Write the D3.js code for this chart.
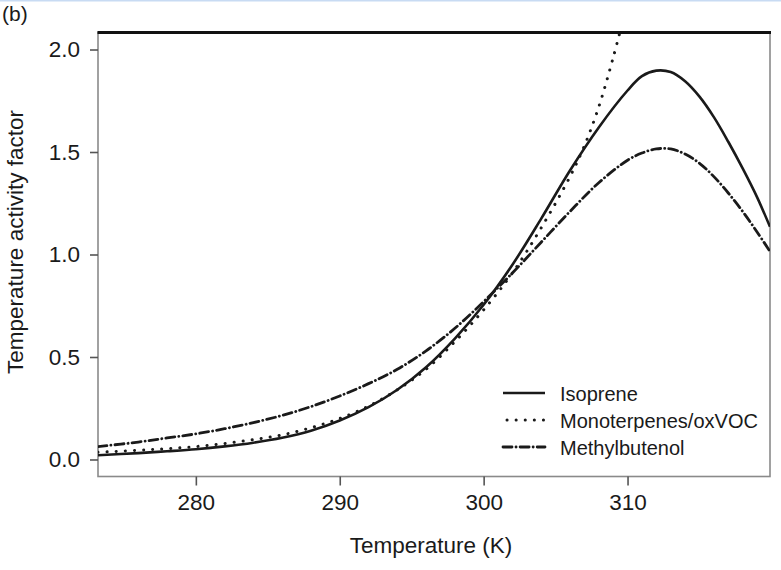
<!DOCTYPE html>
<html>
<head>
<meta charset="utf-8">
<script src="https://cdn.jsdelivr.net/npm/d3@7"></script>
<style>
  body { margin: 0; background: #fff; }
  text { font-family: "Liberation Sans", Arial, sans-serif; fill: #1a1a1a; }
</style>
</head>
<body>
<div id="chart"></div>
<script>
// values (temperature in K, activity factor)
var isopreneT = [273.2, 276, 278, 280, 282, 284, 286, 288, 290, 292, 294, 296, 298, 300, 302, 304, 306, 308, 310, 311, 312, 313, 314, 315, 316, 317, 318, 319, 319.9];
var isopreneV = [0.021, 0.031, 0.040, 0.050, 0.064, 0.082, 0.106, 0.14, 0.19, 0.255, 0.34, 0.45, 0.59, 0.755, 0.95, 1.175, 1.41, 1.62, 1.80, 1.87, 1.897, 1.89, 1.845, 1.77, 1.67, 1.55, 1.42, 1.28, 1.135];

var monoT = [273.2, 276, 278, 280, 282, 284, 286, 288, 290, 292, 294, 296, 298, 300, 302, 304, 306, 307, 308, 309, 309.6];
var monoV = [0.035, 0.045, 0.053, 0.063, 0.078, 0.097, 0.12, 0.155, 0.20, 0.26, 0.34, 0.44, 0.575, 0.73, 0.91, 1.13, 1.38, 1.53, 1.72, 1.96, 2.12];

var mbT = [273.2, 276, 278, 280, 282, 284, 286, 288, 290, 292, 294, 296, 298, 300, 302, 304, 306, 308, 310, 311, 312, 313, 314, 315, 316, 317, 318, 319, 319.9];
var mbV = [0.063, 0.085, 0.105, 0.125, 0.15, 0.18, 0.215, 0.258, 0.31, 0.37, 0.44, 0.53, 0.64, 0.77, 0.91, 1.06, 1.21, 1.35, 1.46, 1.495, 1.515, 1.515, 1.49, 1.445, 1.38, 1.30, 1.21, 1.11, 1.015];

var seriesNames = ["Isoprene", "Monoterpenes/oxVOC", "Methylbutenol"];
var xTicks = [280, 290, 300, 310];
var yTicks = [0.0, 0.5, 1.0, 1.5, 2.0];
var xDomain = [273.2, 319.9];
var yDomain = [-0.083, 2.083];

function drawChart() {
  "use strict";
  var width = 781;
  var height = 570;
  var left = 98, right = 770, top = 32.5, bottom = 476.5;
  var ink = "#1a1a1a";

  var svg = d3.select("#chart").append("svg").
    attr("width", width).
    attr("height", height);

  // thin blue strip at the very top of the scan
  svg.append("rect").
    attr("x", 0).attr("y", 0).
    attr("width", width).attr("height", 1.5).
    style("fill", "#c8dbf3");

  var x = d3.scaleLinear().domain(xDomain).range([left, right]);
  var y = d3.scaleLinear().domain(yDomain).range([bottom, top]);

  svg.append("defs").append("clipPath").
    attr("id", "plotclip").
    append("rect").
    attr("x", left).attr("y", top + 1.5).
    attr("width", right - left).attr("height", bottom - top - 1.5);

  // frame: grey box, heavy top rule
  svg.append("rect").
    attr("x", left).attr("y", top).
    attr("width", right - left).attr("height", bottom - top).
    style("fill", "none").
    style("stroke", "#8a8a8a").
    style("stroke-width", 1.6);

  svg.append("line").
    attr("x1", left - 0.5).attr("x2", right + 1).
    attr("y1", top).attr("y2", top).
    style("stroke", "#111").
    style("stroke-width", 3);

  var xAxis = svg.append("g").
    attr("transform", "translate(0," + bottom + ")").
    call(d3.axisBottom(x).tickValues(xTicks).tickSize(9).tickPadding(9).tickFormat(d3.format("d")));
  xAxis.select(".domain").remove();
  xAxis.selectAll("line").style("stroke", "#555").style("stroke-width", 1.6);
  xAxis.selectAll("text").style("font-size", "22.5px").style("fill", ink);

  var yAxis = svg.append("g").
    attr("transform", "translate(" + left + ",0)").
    call(d3.axisLeft(y).tickValues(yTicks).tickSize(8).tickPadding(10).tickFormat(d3.format(".1f")));
  yAxis.select(".domain").remove();
  yAxis.selectAll("line").style("stroke", "#555").style("stroke-width", 1.6);
  yAxis.selectAll("text").style("font-size", "22.5px").style("fill", ink);

  svg.append("text").
    attr("x", 431).attr("y", 553).
    attr("text-anchor", "middle").
    style("font-size", "22.5px").
    text("Temperature (K)");

  svg.append("text").
    attr("transform", "translate(23,242) rotate(-90)").
    attr("text-anchor", "middle").
    style("font-size", "22.5px").
    text("Temperature activity factor");

  svg.append("text").
    attr("x", 2).attr("y", 21).
    style("font-size", "21px").
    text("(b)");

  var line = d3.line().
    x(function(d) { return x(d[0]); }).
    y(function(d) { return y(d[1]); }).
    curve(d3.curveCatmullRom.alpha(0.5));

  var series = [
    { pts: d3.zip(isopreneT, isopreneV), dash: null, w: 2.6, cap: "butt" },
    { pts: d3.zip(monoT, monoV), dash: "0.1,9", w: 3, cap: "round" },
    { pts: d3.zip(mbT, mbV), dash: "9,4,0.1,4", w: 2.8, cap: "round" }
  ];

  var plot = svg.append("g").attr("clip-path", "url(#plotclip)");

  series.forEach(function(s) {
    plot.append("path").
      datum(s.pts).
      attr("d", line).
      style("fill", "none").
      style("stroke", ink).
      style("stroke-width", s.w).
      style("stroke-linecap", s.cap).
      style("stroke-dasharray", s.dash);
  });

  // legend
  var legend = svg.append("g");
  seriesNames.forEach(function(name, i) {
    var ly = 393 + i * 27;
    legend.append("line").
      attr("x1", i === 1 ? 507 : 503).attr("x2", 545).
      attr("y1", ly).attr("y2", ly).
      style("stroke", ink).
      style("stroke-width", series[i].w).
      style("stroke-linecap", series[i].cap).
      style("stroke-dasharray", series[i].dash);
    legend.append("text").
      attr("x", 560).attr("y", ly + 8).
      style("font-size", "20px").
      text(name);
  });
}

drawChart();
</script>
</body>
</html>
